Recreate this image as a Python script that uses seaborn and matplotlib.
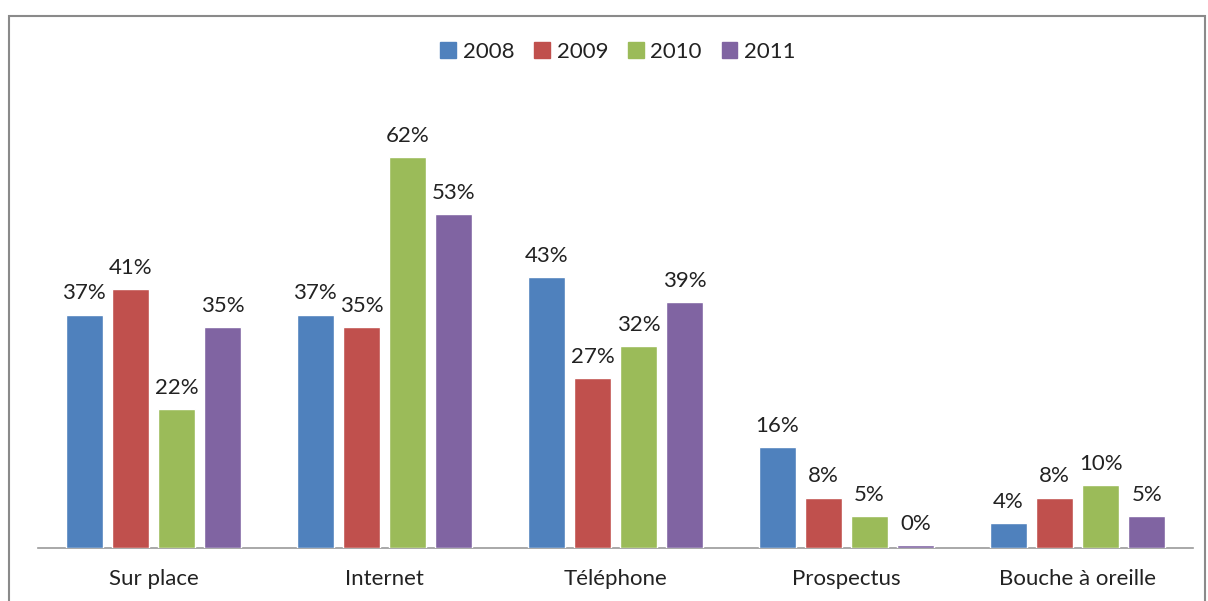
import pandas as pd
import matplotlib.pyplot as plt
import matplotlib.patches as mpatches
import seaborn as sns

categories = ["Sur place", "Internet", "Téléphone", "Prospectus", "Bouche à oreille"]
years = ["2008", "2009", "2010", "2011"]
v2008 = [37, 37, 43, 16, 4]
v2009 = [41, 35, 27, 8, 8]
v2010 = [22, 62, 32, 5, 10]
v2011 = [35, 53, 39, 0.5, 5]
labels2011 = ["35%", "53%", "39%", "0%", "5%"]
colors = ["#4F81BD", "#C0504D", "#9BBB59", "#8064A2"]

rows = []
for year, vals in zip(years, [v2008, v2009, v2010, v2011]):
    for cat, v in zip(categories, vals):
        rows.append({"cat": cat, "year": year, "val": v})
df = pd.DataFrame(rows)

sns.set_style("white")
plt.rcParams['font.family'] = ['Lato', 'DejaVu Sans']
txt = "#222222"
fs = 16

fig = plt.figure(figsize=(12.08, 6.01), dpi=100)
ax = fig.add_axes([38 / 1208, 53 / 601, 1155 / 1208, 458 / 601])

sns.barplot(data=df, x="cat", y="val", hue="year", palette=colors,
            width=0.8, gap=0.2, saturation=1, ax=ax, errorbar=None)

# value labels
for i, cont in enumerate(ax.containers):
    if i == 3:
        labs = labels2011
    else:
        labs = [f"{int(v)}%" for v in [v2008, v2009, v2010][i]]
    ax.bar_label(cont, labels=labs, padding=8, fontsize=fs, color=txt)

ax.set_xlim(-0.5, 4.5)
ax.set_ylim(0, 72.6)
ax.set_xlabel("")
ax.set_ylabel("")
ax.set_yticks([])
ax.tick_params(axis="x", length=0, pad=15, labelsize=fs, labelcolor=txt)
for s in ["top", "right", "left"]:
    ax.spines[s].set_visible(False)
ax.spines["bottom"].set_color("#9a9a9a")
ax.spines["bottom"].set_linewidth(1.2)
ax.spines["bottom"].set_zorder(0)

ax.get_legend().remove()
handles = [mpatches.Patch(color=c, label=y) for c, y in zip(colors, years)]
fig.legend(handles=handles, loc="center", bbox_to_anchor=(618 / 1208, 1 - 52 / 601),
           ncol=4, frameon=False, fontsize=fs, handlelength=0.7, handleheight=0.7,
           handletextpad=0.3, columnspacing=0.9, labelcolor=txt)

# chart border
border = mpatches.Rectangle((9 / 1208, -0.05), (1205 - 9) / 1208, 1.05 - 16 / 601,
                            transform=fig.transFigure, fill=False,
                            edgecolor="#8a8a8a", linewidth=1.5)
fig.patches.append(border)

fig.savefig("out.png", dpi=100)
